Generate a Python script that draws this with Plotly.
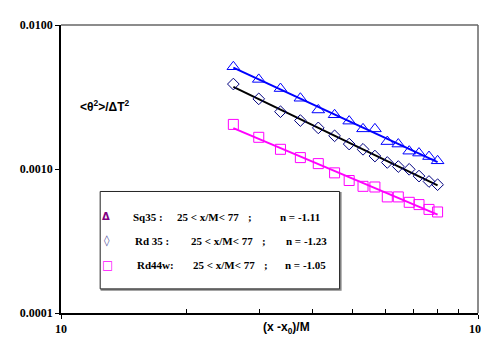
import numpy as np
import plotly.graph_objects as go

# ---- data ----
x_vals = [25.9, 29.8, 33.6, 37.5, 41.4, 45.3, 49.1, 53.0, 56.6, 60.6, 64.4, 68.4, 72.2, 76.3, 80.0]
sq35 = [0.00513, 0.00419, 0.00362, 0.00310, 0.00257, 0.00238, 0.00215, 0.00190,
        0.00190, 0.00155, 0.00149, 0.00133, 0.00129, 0.00122, 0.00114]
rd35 = [0.00389, 0.00307, 0.00250, 0.00217, 0.00193, 0.00170, 0.00149, 0.00137,
        0.00123, 0.00111, 0.00104, 0.000995, 0.000893, 0.000819, 0.000778]
rd44w = [0.00204, 0.00166, 0.00137, 0.00120, 0.00109, 0.000940, 0.000832, 0.000758,
         0.000750, 0.000640, 0.000640, 0.000587, 0.000566, 0.000524, 0.000503]

y_tickvals = [0.0001, 0.001, 0.01]
y_ticktext = ["0.0001", "0.0010", "0.0100"]
x_tickvals = [10, 100]
x_ticktext = ["10", "100"]
x_minor = [20, 30, 40, 50, 60, 70, 80, 90]

legend_names = ["Sq35 :", "Rd 35 :", "Rd44w:"]
legend_range = "25 &lt; x/M&lt; 77"
legend_n = ["n = -1.11", "n = -1.23", "n = -1.05"]

W, H = 489, 338
L, R, T, B = 53.3, 479.0, 10.7, 309.3


def px(xp):
    return (xp - L) / (R - L)


def py(yp):
    return (B - yp) / (B - T)


def fit(x, y):
    lx, ly = np.log10(x), np.log10(y)
    k, c = np.polyfit(lx, ly, 1)
    xf = np.array([min(x), max(x)])
    return xf, 10 ** (c + k * np.log10(xf))


fig = go.Figure()

series = [
    (sq35, "triangle-up-open", 11, "#0000ff", "#0000ff"),
    (rd35, "diamond-open", 9, "#000080", "#000000"),
    (rd44w, "square-open", 10, "#ff00ff", "#ff00ff"),
]
for ys, sym, size, mcol, lcol in series:
    xf, yf = fit(x_vals, ys)
    fig.add_trace(go.Scatter(x=xf, y=yf, mode="lines",
                             line=dict(color=lcol, width=2), showlegend=False))
    fig.add_trace(go.Scatter(x=x_vals, y=ys, mode="markers",
                             marker=dict(symbol=sym, size=size, color=mcol,
                                         line=dict(color=mcol, width=1)),
                             showlegend=False))

tick_font = dict(family="Liberation Serif", size=12, color="black", weight="bold")

fig.update_layout(
    width=W, height=H,
    margin=dict(l=L, r=W - R, t=T, b=H - B, pad=0),
    plot_bgcolor="white", paper_bgcolor="white",
    showlegend=False,
    xaxis=dict(type="log", range=[1, 2], showgrid=False, zeroline=False,
               tickvals=x_tickvals, ticktext=x_ticktext, tickfont=tick_font,
               ticks="outside", ticklen=4, tickcolor="black", tickwidth=1,
               showline=True, linecolor="black", linewidth=1.5,
               minor=dict(tickvals=x_minor, ticks="inside", ticklen=4,
                          tickcolor="black", tickwidth=1, showgrid=False)),
    yaxis=dict(type="log", range=[-4, -2], showgrid=False, zeroline=False,
               tickvals=y_tickvals, ticktext=y_ticktext, tickfont=tick_font,
               ticks="outside", ticklen=4, tickcolor="black", tickwidth=1,
               showline=True, linecolor="black", linewidth=1.5),
)

# top and right frame lines (gray)
fig.add_shape(type="line", xref="paper", yref="paper", x0=0, x1=1, y0=1, y1=1,
              line=dict(color="#666666", width=1.5))
fig.add_shape(type="line", xref="paper", yref="paper", x0=1, x1=1, y0=0, y1=1,
              line=dict(color="#666666", width=1.5))

# axis titles
fig.add_annotation(xref="paper", yref="paper", x=px(284), y=py(325), showarrow=False,
                   text="(x -x<sub>0</sub>)/M", xanchor="center", yanchor="middle",
                   font=dict(family="Liberation Sans", size=12, color="black", weight="bold"))
fig.add_annotation(xref="paper", yref="paper", x=px(71), y=py(95), showarrow=False,
                   text="&lt;θ<sup>2</sup>&gt;/ΔT<sup>2</sup>", xanchor="left", yanchor="middle",
                   font=dict(family="Liberation Sans", size=12, color="black", weight="bold"))

# legend box
fig.add_shape(type="rect", xref="paper", yref="paper",
              x0=px(94.5), x1=px(339), y0=py(285.5), y1=py(184.5),
              line=dict(color="#888888", width=1.5), fillcolor="#888888", layer="above")
fig.add_shape(type="rect", xref="paper", yref="paper",
              x0=px(93.3), x1=px(337.7), y0=py(284.3), y1=py(183.3),
              line=dict(color="#222222", width=1), fillcolor="white", layer="above")

leg_font = dict(family="Liberation Serif", size=11, color="black", weight="bold")
rows_y = [209.3, 234.3, 260.0]
name_x = [125, 127, 129.3]
range_x = [169.3, 183.7, 185.7]
semi_x = [242.3, 256.7, 258.7]
n_x = [275, 281, 280.3]
glyphs = [("Δ", "#800080", 10), ("◊", "#5555a0", 11), ("□", "#ff00ff", 12)]
glyph_x = [99.5, 100, 101]

for i in range(3):
    g, gc, gs = glyphs[i]
    fig.add_annotation(xref="paper", yref="paper", x=px(glyph_x[i]), y=py(rows_y[i]),
                       showarrow=False, text=g, xanchor="center", yanchor="middle",
                       font=dict(family="DejaVu Sans", size=gs, color=gc, weight="bold"))
    for xx, txt in [(name_x[i], legend_names[i]), (range_x[i], legend_range),
                    (semi_x[i], ";"), (n_x[i], legend_n[i])]:
        fig.add_annotation(xref="paper", yref="paper", x=px(xx), y=py(rows_y[i]),
                           showarrow=False, text=txt, xanchor="left", yanchor="middle",
                           font=leg_font)

fig.write_html("out.html")
